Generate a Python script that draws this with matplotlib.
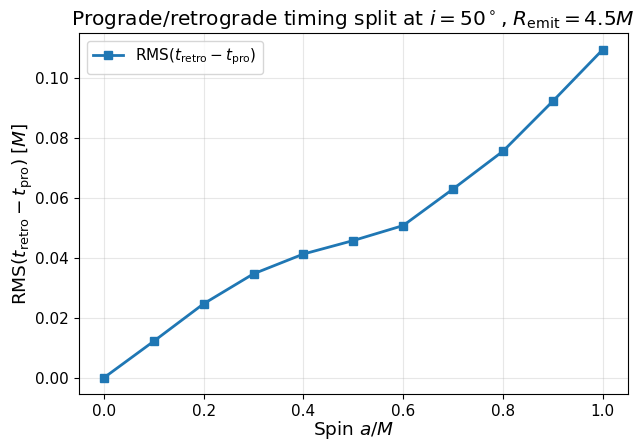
import matplotlib
matplotlib.use("Agg")
import matplotlib.pyplot as plt

spin = [0.0, 0.1, 0.2, 0.3, 0.4, 0.5, 0.6, 0.7, 0.8, 0.9, 1.0]
rms = [0.0, 0.0122, 0.0247, 0.0347, 0.0413, 0.0458, 0.0508, 0.0630, 0.0756, 0.0923, 0.1095]

fig, ax = plt.subplots(figsize=(6.36, 4.42), dpi=100)
fig.subplots_adjust(left=0.124, right=0.987, top=0.925, bottom=0.108)
ax.plot(spin, rms, marker='s', color='#1f77b4', lw=2, ms=6,
        label=r'RMS$(t_{\rm retro}-t_{\rm pro})$')
ax.set_xlabel(r'Spin $a/M$', fontsize=13.3, labelpad=0)
ax.set_ylabel(r'RMS$(t_{\rm retro}-t_{\rm pro})\;[M]$', fontsize=13.3, labelpad=0)
ax.set_title(r'Prograde/retrograde timing split at $i=50^\circ$, $R_{\rm emit}=4.5M$', fontsize=14.5)
ax.tick_params(labelsize=11)
ax.grid(True, alpha=0.3)
ax.legend(loc='upper left', fontsize=11)
fig.savefig('out.png', dpi=100)
